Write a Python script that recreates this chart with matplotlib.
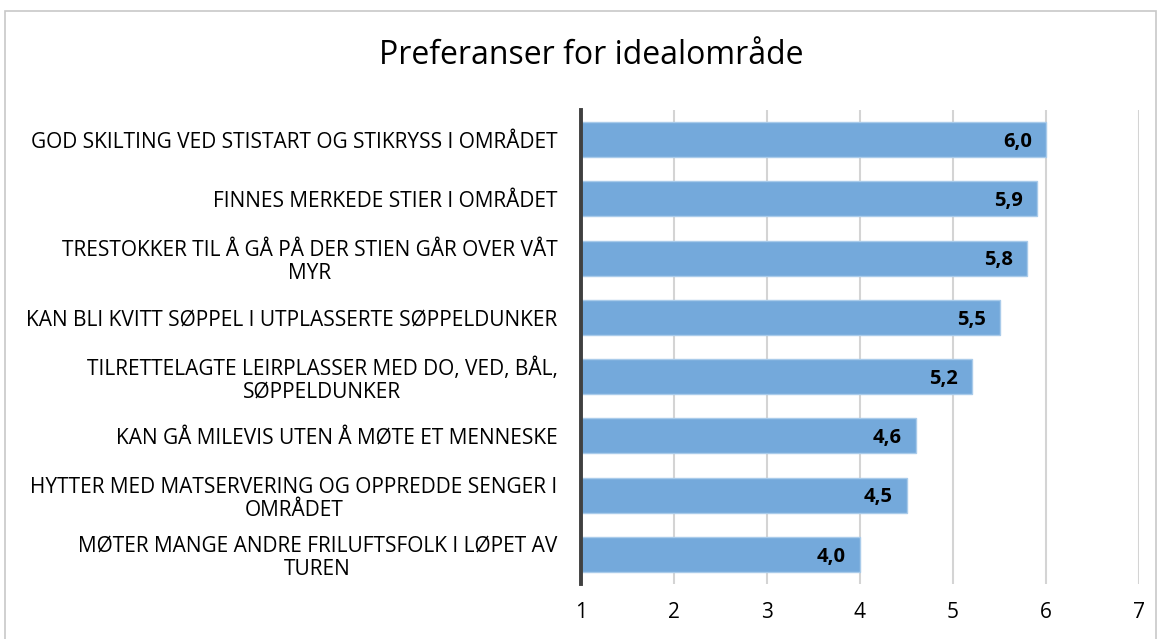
import matplotlib
matplotlib.use('Agg')
import matplotlib.pyplot as plt
from matplotlib.patches import Rectangle

labels = [
    'GOD SKILTING VED STISTART OG STIKRYSS I OMRÅDET',
    'FINNES MERKEDE STIER I OMRÅDET',
    'TRESTOKKER TIL Å GÅ PÅ DER STIEN GÅR OVER VÅT\nMYR',
    'KAN BLI KVITT SØPPEL I UTPLASSERTE SØPPELDUNKER',
    'TILRETTELAGTE LEIRPLASSER MED DO, VED, BÅL,\nSØPPELDUNKER',
    'KAN GÅ MILEVIS UTEN Å MØTE ET MENNESKE',
    'HYTTER MED MATSERVERING OG OPPREDDE SENGER I\nOMRÅDET',
    'MØTER MANGE ANDRE FRILUFTSFOLK I LØPET AV\nTUREN',
]
values = [6.0, 5.9, 5.8, 5.5, 5.2, 4.6, 4.5, 4.0]
xticks = [1, 2, 3, 4, 5, 6, 7]

plt.rcParams['font.family'] = ['Open Sans', 'DejaVu Sans']

fig = plt.figure(figsize=(11.59, 6.39), dpi=100)
fig.patches.append(Rectangle((0.004, -0.1), 0.993, 1.083, transform=fig.transFigure,
                             fill=False, edgecolor='#c8c8c8', linewidth=1.2))
ax = fig.add_axes([581 / 1159, 1 - 584 / 639, (1139 - 581) / 1159, (584 - 110) / 639])

ypos = list(range(len(values)))
ax.barh(ypos, [v - 1 for v in values], left=1, height=0.59,
        color='#74a9db', edgecolor='#a9cbea', linewidth=1, zorder=2)
for y, v in zip(ypos, values):
    ax.text(v - 0.15, y + 0.04, f'{v:.1f}'.replace('.', ','), ha='right', va='center',
            fontsize=14.5, fontweight='bold', color='black', zorder=3)

ax.set_xlim(1, 7)
ax.set_ylim(len(values) - 0.5, -0.5)
ax.set_xticks(xticks)
ax.set_xticklabels([str(t) for t in xticks], fontsize=15)
ax.set_yticks(ypos)
ax.set_yticklabels(labels, fontsize=15, linespacing=1.12, multialignment='center')
ax.tick_params(axis='both', length=0)
ax.tick_params(axis='x', pad=13)
ax.tick_params(axis='y', pad=17)
ax.grid(axis='x', color='#d4d4d4', linewidth=1.5, zorder=0)
for s in ['top', 'right', 'bottom']:
    ax.spines[s].set_visible(False)
ax.spines['left'].set_color('#404040')
ax.spines['left'].set_linewidth(2.8)
ax.spines['left'].set_zorder(4)

fig.text(0.51, 0.913, 'Preferanser for idealområde', ha='center', va='center', fontsize=23)

fig.savefig('out.png', dpi=100)
